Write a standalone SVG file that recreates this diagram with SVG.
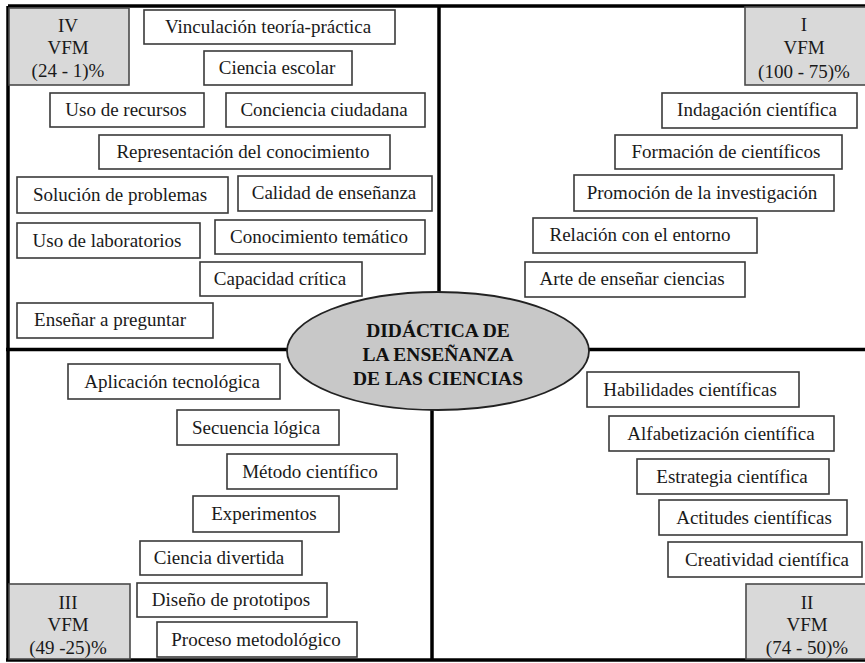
<svg xmlns="http://www.w3.org/2000/svg" width="865" height="663" viewBox="0 0 865 663">
<style>
.box{fill:#fff;stroke:#3a3a3a;stroke-width:1.6}
.gbox{fill:#d9d9d9;stroke:#4a4a4a;stroke-width:1.6}
.t{font-family:"Liberation Serif","Times New Roman",serif;font-size:19px;fill:#1a1a1a;text-anchor:middle}
.c{font-family:"Liberation Serif","Times New Roman",serif;font-size:19.5px;font-weight:bold;fill:#111;text-anchor:middle}
.q{stroke:#000;stroke-width:3.5;fill:none}
</style>
<rect width="865" height="663" fill="#fff"/>
<g id="quadrants">
<line class="q" x1="8" y1="6" x2="865" y2="6"/>
<line class="q" x1="8" y1="6" x2="8" y2="661"/>
<line class="q" x1="6" y1="660" x2="865" y2="660"/>
<line class="q" x1="439" y1="6" x2="439" y2="349"/>
<line class="q" x1="432" y1="349" x2="432" y2="660"/>
<line class="q" x1="6" y1="349.5" x2="865" y2="349.5"/>
</g>
<g id="q4-label"><rect class="gbox" x="9" y="8" width="120" height="77"/><text class="t" x="68" y="32">IV</text><text class="t" x="68" y="54">VFM</text><text class="t" x="68" y="77">(24 - 1)%</text></g>
<g id="n-vinculacion"><rect class="box" x="144" y="10" width="251" height="34"/><text class="t" x="268" y="33">Vinculación teoría-práctica</text></g>
<g id="n-ciencia-escolar"><rect class="box" x="204" y="51" width="148" height="34"/><text class="t" x="277" y="74">Ciencia escolar</text></g>
<g id="n-uso-recursos"><rect class="box" x="50" y="93" width="154" height="34"/><text class="t" x="126" y="116">Uso de recursos</text></g>
<g id="n-conciencia"><rect class="box" x="226" y="93" width="199" height="34"/><text class="t" x="324" y="116">Conciencia ciudadana</text></g>
<g id="n-representacion"><rect class="box" x="99" y="135" width="291" height="34"/><text class="t" x="243" y="158">Representación del conocimiento</text></g>
<g id="n-solucion"><rect class="box" x="17" y="177" width="211" height="36"/><text class="t" x="120" y="201">Solución de problemas</text></g>
<g id="n-calidad"><rect class="box" x="238" y="176" width="194" height="35"/><text class="t" x="334" y="199">Calidad de enseñanza</text></g>
<g id="n-laboratorios"><rect class="box" x="17" y="223" width="183" height="35"/><text class="t" x="107" y="247">Uso de laboratorios</text></g>
<g id="n-conocimiento"><rect class="box" x="215" y="220" width="210" height="34"/><text class="t" x="319" y="243">Conocimiento temático</text></g>
<g id="n-capacidad"><rect class="box" x="200" y="262" width="162" height="34"/><text class="t" x="280" y="285">Capacidad crítica</text></g>
<g id="n-preguntar"><rect class="box" x="17" y="303" width="196" height="35"/><text class="t" x="110" y="326">Enseñar a preguntar</text></g>

<g id="q1-label"><rect class="gbox" x="745" y="7" width="121" height="78"/><text class="t" x="804" y="31">I</text><text class="t" x="804" y="54">VFM</text><text class="t" x="804" y="78">(100 - 75)%</text></g>
<g id="n-indagacion"><rect class="box" x="662" y="93" width="195" height="35"/><text class="t" x="757" y="116">Indagación científica</text></g>
<g id="n-formacion"><rect class="box" x="615" y="135" width="227" height="34"/><text class="t" x="726" y="158">Formación de científicos</text></g>
<g id="n-promocion"><rect class="box" x="574" y="175" width="260" height="36"/><text class="t" x="702" y="199">Promoción de la investigación</text></g>
<g id="n-relacion"><rect class="box" x="533" y="218" width="224" height="35"/><text class="t" x="640" y="241">Relación con el entorno</text></g>
<g id="n-arte"><rect class="box" x="525" y="262" width="220" height="35"/><text class="t" x="632" y="285">Arte de enseñar ciencias</text></g>

<g id="n-aplicacion"><rect class="box" x="68" y="364" width="212" height="35"/><text class="t" x="172" y="388">Aplicación tecnológica</text></g>
<g id="n-secuencia"><rect class="box" x="177" y="410" width="162" height="35"/><text class="t" x="256" y="434">Secuencia lógica</text></g>
<g id="n-metodo"><rect class="box" x="227" y="454" width="170" height="35"/><text class="t" x="310" y="478">Método científico</text></g>
<g id="n-experimentos"><rect class="box" x="193" y="496" width="146" height="36"/><text class="t" x="264" y="520">Experimentos</text></g>
<g id="n-divertida"><rect class="box" x="140" y="541" width="162" height="34"/><text class="t" x="219" y="564">Ciencia divertida</text></g>
<g id="n-diseno"><rect class="box" x="137" y="583" width="190" height="34"/><text class="t" x="231" y="606">Diseño de prototipos</text></g>
<g id="n-proceso"><rect class="box" x="157" y="622" width="200" height="35"/><text class="t" x="256" y="646">Proceso metodológico</text></g>
<g id="q3-label"><rect class="gbox" x="9" y="584" width="121" height="75"/><text class="t" x="68" y="609">III</text><text class="t" x="68" y="631">VFM</text><text class="t" x="68" y="654">(49 -25)%</text></g>

<g id="n-habilidades"><rect class="box" x="587" y="372" width="212" height="35"/><text class="t" x="690" y="396">Habilidades científicas</text></g>
<g id="n-alfabetizacion"><rect class="box" x="609" y="416" width="225" height="35"/><text class="t" x="721" y="440">Alfabetización científica</text></g>
<g id="n-estrategia"><rect class="box" x="637" y="459" width="192" height="35"/><text class="t" x="732" y="483">Estrategia científica</text></g>
<g id="n-actitudes"><rect class="box" x="659" y="500" width="188" height="35"/><text class="t" x="754" y="524">Actitudes científicas</text></g>
<g id="n-creatividad"><rect class="box" x="668" y="542" width="194" height="35"/><text class="t" x="767" y="566">Creatividad científica</text></g>
<g id="q2-label"><rect class="gbox" x="746" y="584" width="120" height="75"/><text class="t" x="807" y="609">II</text><text class="t" x="807" y="631">VFM</text><text class="t" x="807" y="654">(74 - 50)%</text></g>

<g id="center"><ellipse cx="438" cy="351" rx="151" ry="59" fill="#c8c8c8" stroke="#222" stroke-width="1.8"/><text class="c" x="438" y="337">DIDÁCTICA DE</text><text class="c" x="438" y="361">LA ENSEÑANZA</text><text class="c" x="438" y="385">DE LAS CIENCIAS</text></g>
</svg>
